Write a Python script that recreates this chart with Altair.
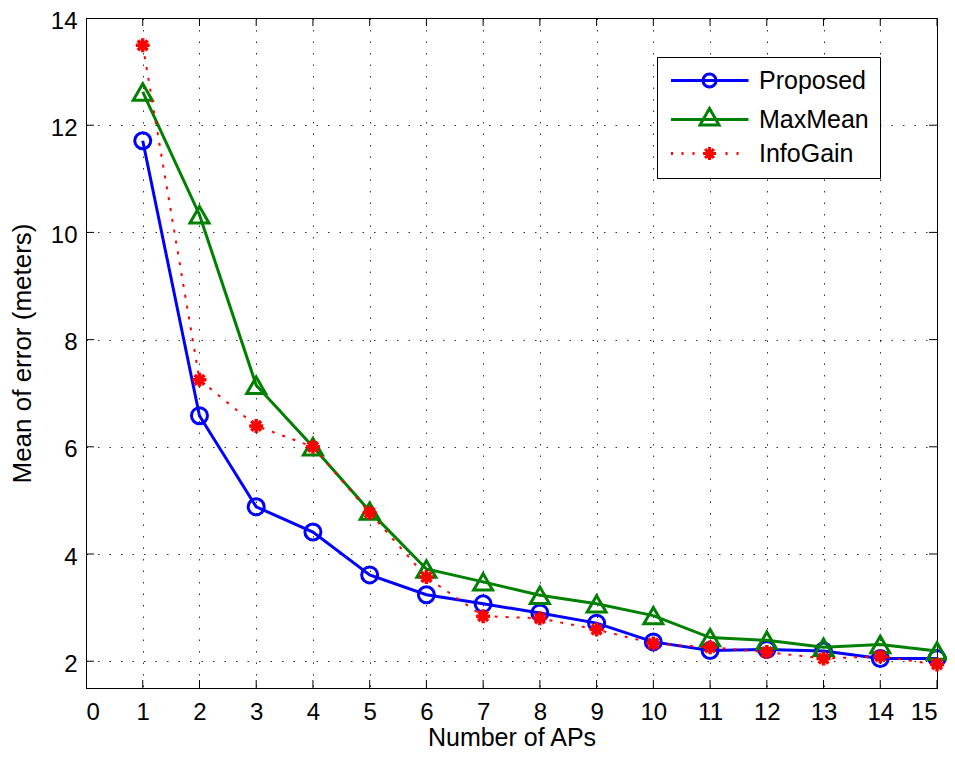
import altair as alt
import pandas as pd

# ---------------- data ----------------
aps = list(range(1, 16))
proposed = [11.71, 6.58, 4.88, 4.41, 3.61, 3.24, 3.07, 2.90, 2.71, 2.36, 2.20, 2.22, 2.19, 2.05, 2.05]
maxmean = [12.62, 10.33, 7.15, 6.00, 4.80, 3.72, 3.48, 3.23, 3.07, 2.85, 2.44, 2.39, 2.26, 2.31, 2.19]
infogain = [13.49, 7.25, 6.39, 6.00, 4.77, 3.57, 2.84, 2.80, 2.59, 2.33, 2.26, 2.17, 2.05, 2.09, 1.94]
series = ["Proposed", "MaxMean", "InfoGain"]
colors = ["#0000ff", "#008000", "#ff0000"]
x_ticks = list(range(0, 16))
y_ticks = [2, 4, 6, 8, 10, 12, 14]
x_domain = [0, 15]
y_domain = [1.5, 14]

FONT = "Liberation Sans"

rows = []
for name, vals in zip(series, [proposed, maxmean, infogain]):
    for a, v in zip(aps, vals):
        rows.append({"ap": a, "err": v, "series": name})
df = pd.DataFrame(rows)

# marker shapes
asterisk = "M-1,0L1,0M0,-1L0,1M-0.7,-0.7L0.7,0.7M-0.7,0.7L0.7,-0.7"

# legend symbols (unit = 5px with symbolSize 100): line sample + marker
leg_prop = "M-7.7,0L7.8,0M1.3,0A1.3,1.3,0,1,1,-1.3,0A1.3,1.3,0,1,1,1.3,0Z"
leg_max = "M-7.7,0L7.8,0M0,-2.19L1.9,1.1L-1.9,1.1Z"
leg_info = ("M-7.7,0L-7.3,0M-5.6,0L-5.2,0M-3.4,0L-3.0,0M3.2,0L3.6,0M5.4,0L5.8,0"
            "M-1.3,0L1.3,0M0,-1.3L0,1.3M-0.9,-0.9L0.9,0.9M-0.9,0.9L0.9,-0.9")

legend = alt.Legend(
    title=None, orient="none", legendX=571, legendY=39,
    fillColor="white", strokeColor="black", padding=11, cornerRadius=0,
    symbolSize=100, symbolOffset=29, labelOffset=37, rowPadding=8,
    symbolStrokeWidth=3, symbolFillColor="transparent",
    labelFont=FONT, labelFontSize=25, labelColor="black",
)

x_axis = alt.Axis(values=x_ticks, format="d", grid=True, gridDash=[1.5, 10], gridColor="black",
                  gridOpacity=0.8, ticks=False, domainColor="black", labelColor="black",
                  labelFont=FONT, labelFontSize=24, labelPadding=12,
                  title="Number of APs", titleFont=FONT, titleFontSize=25,
                  titleFontWeight="normal", titleColor="black",
                  titleBaseline="alphabetic", titleY=57)
y_axis = alt.Axis(values=y_ticks, format="d", grid=True, gridDash=[1.5, 10], gridColor="black",
                  gridOpacity=0.8, ticks=False, domainColor="black", labelColor="black",
                  labelFont=FONT, labelFontSize=24, labelPadding=9, labelOffset=3,
                  title="Mean of error (meters)", titleFont=FONT, titleFontSize=26,
                  titleFontWeight="normal", titleColor="black", titlePadding=15)

xs = alt.Scale(domain=x_domain, nice=False, zero=False)
ys = alt.Scale(domain=y_domain, nice=False, zero=False)
X = alt.X("ap:Q", scale=xs, axis=x_axis)
Y = alt.Y("err:Q", scale=ys, axis=y_axis)
cscale = alt.Scale(domain=series, range=colors)
C = alt.Color("series:N", scale=cscale, legend=None)

base = alt.Chart(df).encode(x=X, y=Y, color=C)


def sel(name):
    return base.transform_filter(alt.datum.series == name)


prop_line = sel("Proposed").mark_line(strokeWidth=3)
prop_pts = sel("Proposed").mark_point(shape="circle", filled=False, size=256, strokeWidth=3, opacity=1)
max_line = sel("MaxMean").mark_line(strokeWidth=3)
max_pts = sel("MaxMean").mark_point(shape="triangle-up", filled=False, size=360, strokeWidth=3, opacity=1)
info_line = sel("InfoGain").mark_line(strokeWidth=2, strokeDash=[3, 8])
info_pts = sel("InfoGain").mark_point(shape=asterisk, filled=False, size=196, strokeWidth=3.5, opacity=1)

# empty layer that only carries the legend (placed first so its legend settings win)
legend_layer = alt.Chart(df).transform_filter("false").mark_point(
    filled=False, opacity=1, strokeWidth=3
).encode(
    x=X, y=Y,
    color=alt.Color("series:N", scale=cscale, legend=legend),
    shape=alt.Shape("series:N", scale=alt.Scale(domain=series, range=[leg_prop, leg_max, leg_info]),
                    legend=legend),
)

# inward ticks (clipped) on all four sides
tx_bottom = pd.DataFrame({"ap": x_ticks, "err": [y_domain[0]] * len(x_ticks)})
tx_top = pd.DataFrame({"ap": x_ticks, "err": [y_domain[1]] * len(x_ticks)})
ty_left = pd.DataFrame({"ap": [x_domain[0]] * len(y_ticks), "err": y_ticks})
ty_right = pd.DataFrame({"ap": [x_domain[1]] * len(y_ticks), "err": y_ticks})


def ticks(d, orient):
    return alt.Chart(d).mark_tick(orient=orient, size=16, thickness=1, color="black",
                                  clip=True, opacity=1).encode(x=X, y=Y)


chart = alt.layer(
    legend_layer,
    ticks(tx_bottom, "vertical"), ticks(tx_top, "vertical"),
    ticks(ty_left, "horizontal"), ticks(ty_right, "horizontal"),
    prop_line, prop_pts, max_line, max_pts, info_line, info_pts,
).properties(
    width=851, height=670,
    autosize=alt.AutoSizeParams(type="none"),
    padding={"left": 78, "top": 10, "right": 10, "bottom": 63},
    background="white",
).configure_view(stroke="black", strokeWidth=1)

chart.save("out.html", embed_options={"renderer": "svg", "actions": False})
